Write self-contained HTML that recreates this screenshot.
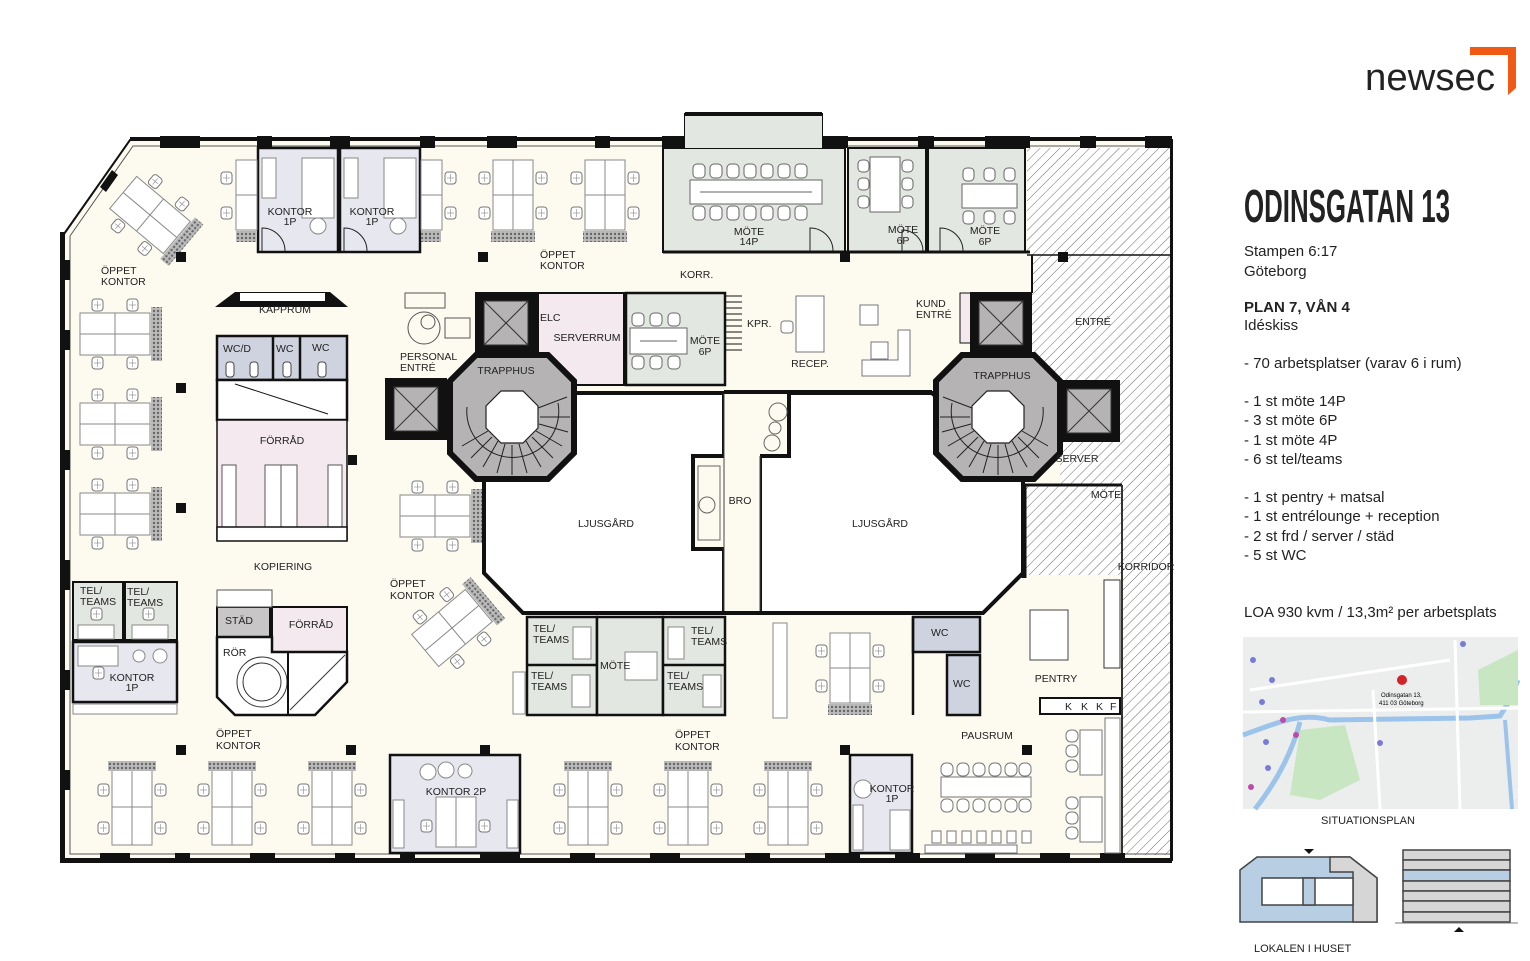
<!DOCTYPE html>
<html><head><meta charset="utf-8"><style>
html,body{margin:0;padding:0;background:#fff;}
svg{display:block}
.l{font-family:"Liberation Sans Narrow","Liberation Sans",sans-serif;font-size:10.5px;fill:#222;}
.r{font-family:"Liberation Sans",sans-serif;fill:#222;}
</style></head><body>
<svg width="1530" height="961" viewBox="0 0 1530 961" xmlns="http://www.w3.org/2000/svg">
<defs>
<pattern id="hatch" width="7" height="7" patternUnits="userSpaceOnUse" patternTransform="rotate(45)">
<rect width="7" height="7" fill="#fff"/><line x1="0" y1="0" x2="0" y2="7" stroke="#444" stroke-width="0.8"/></pattern>
<pattern id="plantp" width="4" height="4" patternUnits="userSpaceOnUse"><rect width="4" height="4" fill="#bbb"/><circle cx="2" cy="2" r="1.2" fill="#666"/></pattern>
<g id="ch"><rect x="0" y="0" width="11" height="12" rx="3" fill="#fff" stroke="#777" stroke-width="1"/><line x1="2" y1="6" x2="9" y2="6" stroke="#888" stroke-width=".6"/><line x1="5.5" y1="2" x2="5.5" y2="10" stroke="#888" stroke-width=".6"/></g>
<g id="dh"><rect x="0" y="0" width="70" height="42" fill="#fff" stroke="#888"/><line x1="35" y1="0" x2="35" y2="42" stroke="#888"/><line x1="0" y1="21" x2="70" y2="21" stroke="#888"/>
<use href="#ch" x="12" y="-14"/><use href="#ch" x="47" y="-14"/><use href="#ch" x="12" y="44"/><use href="#ch" x="47" y="44"/><rect x="71" y="-6" width="11" height="54" fill="url(#plantp)"/></g>
<g id="dvb"><rect x="0" y="0" width="40" height="70" fill="#fff" stroke="#888"/><line x1="20" y1="0" x2="20" y2="70" stroke="#888"/><line x1="0" y1="35" x2="40" y2="35" stroke="#888"/>
<use href="#ch" x="-14" y="12"/><use href="#ch" x="-14" y="47"/><use href="#ch" x="43" y="12"/><use href="#ch" x="43" y="47"/><rect x="-2" y="71" width="44" height="11" fill="url(#plantp)"/></g>
<g id="dvt"><rect x="0" y="0" width="40" height="75" fill="#fff" stroke="#888"/><line x1="20" y1="0" x2="20" y2="75" stroke="#888"/><line x1="0" y1="37" x2="40" y2="37" stroke="#888"/>
<use href="#ch" x="-14" y="14"/><use href="#ch" x="-14" y="52"/><use href="#ch" x="43" y="14"/><use href="#ch" x="43" y="52"/><rect x="-4" y="-9" width="48" height="10" fill="url(#plantp)"/></g>
<g id="tr">
<polygon points="-36,-62 36,-62 62,-36 62,36 36,62 -36,62 -62,36 -62,-36" fill="#b5b3b3" stroke="#111" stroke-width="6"/>
<g stroke="#222" stroke-width="1">
<line x1="26" y1="-9" x2="55" y2="-20"/><line x1="28" y1="0" x2="58" y2="0"/><line x1="27" y1="7" x2="56" y2="15"/><line x1="24" y1="14" x2="50" y2="29"/><line x1="20" y1="20" x2="41" y2="41"/><line x1="14" y1="24" x2="29" y2="50"/><line x1="7" y1="27" x2="15" y2="56"/><line x1="0" y1="28" x2="0" y2="58"/><line x1="-7" y1="27" x2="-15" y2="56"/><line x1="-14" y1="24" x2="-29" y2="50"/><line x1="-20" y1="20" x2="-41" y2="41"/><line x1="-24" y1="14" x2="-50" y2="29"/>
<path d="M-45,-10 A46,46 0 1 0 46,-14" fill="none"/></g>
<polygon points="-11,-26 11,-26 26,-11 26,11 11,26 -11,26 -26,11 -26,-11" fill="#fff" stroke="#222" stroke-width="1.2"/>
</g>
<g id="el"><rect x="0" y="0" width="62" height="62" fill="#111"/><rect x="9" y="9" width="44" height="44" fill="#b5b3b3" stroke="#333"/><line x1="9" y1="9" x2="53" y2="53" stroke="#333"/><line x1="53" y1="9" x2="9" y2="53" stroke="#333"/></g>
</defs>

<polygon points="130,140 685,140 685,114 822,114 822,140 1172,140 1172,860 64,860 64,234" fill="#fdfaf0" stroke="#111" stroke-width="2"/>
<polygon points="1027,148 1172,148 1172,855 1122,855 1122,715 1122,575 1025,575 1025,485 1060,485 1060,440 1120,440 1120,380 1060,380 1032,355 1032,255 1027,255" fill="url(#hatch)"/>
<rect x="1025" y="580" width="95" height="135" fill="#fdfaf0"/>
<line x1="1027" y1="255" x2="1172" y2="255" stroke="#111" stroke-width="1.5"/>
<line x1="1025" y1="485" x2="1122" y2="485" stroke="#111" stroke-width="3"/>
<line x1="1024" y1="485" x2="1024" y2="578" stroke="#111" stroke-width="5"/>
<line x1="1122" y1="485" x2="1122" y2="855" stroke="#333" stroke-width="2"/>
<line x1="1032" y1="255" x2="1032" y2="293" stroke="#111" stroke-width="2"/>

<g fill="none" stroke="#555" stroke-width="1">
<polyline points="70,236 133,146 685,146"/><polyline points="822,146 1172,146"/>
<polyline points="70,236 70,854 1172,854"/>
</g>
<g fill="#111">
<rect x="130" y="137" width="1042" height="4"/>
<rect x="685" y="112" width="137" height="4"/>
<rect x="60" y="232" width="5" height="630"/>
<rect x="60" y="858" width="1112" height="5"/>
<rect x="1170" y="137" width="2" height="725"/>
<rect x="160" y="136" width="40" height="12"/><rect x="257" y="136" width="15" height="12"/><rect x="330" y="136" width="20" height="12"/><rect x="420" y="136" width="15" height="12"/><rect x="487" y="136" width="30" height="12"/><rect x="595" y="136" width="15" height="12"/><rect x="662" y="136" width="25" height="12"/><rect x="820" y="136" width="28" height="12"/><rect x="918" y="136" width="16" height="12"/><rect x="985" y="136" width="45" height="12"/><rect x="1080" y="136" width="16" height="12"/><rect x="1145" y="136" width="27" height="12"/>
<rect x="60" y="260" width="10" height="20"/><rect x="60" y="330" width="10" height="20"/><rect x="60" y="450" width="10" height="20"/><rect x="60" y="560" width="10" height="30"/><rect x="60" y="670" width="10" height="20"/><rect x="60" y="770" width="10" height="20"/>
<rect x="100" y="853" width="30" height="10"/><rect x="175" y="853" width="15" height="10"/><rect x="250" y="853" width="25" height="10"/><rect x="335" y="853" width="20" height="10"/><rect x="400" y="853" width="15" height="10"/><rect x="480" y="853" width="40" height="10"/><rect x="570" y="853" width="25" height="10"/><rect x="650" y="853" width="30" height="10"/><rect x="745" y="853" width="25" height="10"/><rect x="825" y="853" width="35" height="10"/><rect x="895" y="853" width="25" height="10"/><rect x="965" y="853" width="30" height="10"/><rect x="1040" y="853" width="30" height="10"/><rect x="1100" y="853" width="25" height="10"/>
<polygon points="100,187 112,170 118,175 106,192"/>
</g>

<rect x="663" y="148" width="182" height="104" fill="#e3e7e1" stroke="#111" stroke-width="2"/>
<rect x="685" y="116" width="137" height="32" fill="#e3e7e1"/>
<rect x="848" y="148" width="78" height="104" fill="#e3e7e1" stroke="#111" stroke-width="2"/>
<rect x="928" y="148" width="97" height="104" fill="#e3e7e1" stroke="#111" stroke-width="2"/>
<line x1="663" y1="252" x2="1030" y2="252" stroke="#111" stroke-width="3"/>
<rect x="258" y="148" width="80" height="104" fill="#e7e8ef" stroke="#111" stroke-width="2.5"/>
<rect x="340" y="148" width="80" height="104" fill="#e7e8ef" stroke="#111" stroke-width="2.5"/>
<g><rect x="690" y="180" width="132" height="24" fill="#fff" stroke="#666"/><line x1="700" y1="192" x2="812" y2="192" stroke="#666"/>
<g fill="#fff" stroke="#666"><rect x="693" y="164" width="12" height="14" rx="4"/><rect x="710" y="164" width="12" height="14" rx="4"/><rect x="727" y="164" width="12" height="14" rx="4"/><rect x="744" y="164" width="12" height="14" rx="4"/><rect x="761" y="164" width="12" height="14" rx="4"/><rect x="778" y="164" width="12" height="14" rx="4"/><rect x="795" y="164" width="12" height="14" rx="4"/>
<rect x="693" y="206" width="12" height="14" rx="4"/><rect x="710" y="206" width="12" height="14" rx="4"/><rect x="727" y="206" width="12" height="14" rx="4"/><rect x="744" y="206" width="12" height="14" rx="4"/><rect x="761" y="206" width="12" height="14" rx="4"/><rect x="778" y="206" width="12" height="14" rx="4"/><rect x="795" y="206" width="12" height="14" rx="4"/>
<rect x="870" y="157" width="30" height="55" fill="#fff"/><rect x="858" y="160" width="11" height="12" rx="4"/><rect x="858" y="178" width="11" height="12" rx="4"/><rect x="858" y="196" width="11" height="12" rx="4"/><rect x="902" y="160" width="11" height="12" rx="4"/><rect x="902" y="178" width="11" height="12" rx="4"/><rect x="902" y="196" width="11" height="12" rx="4"/>
<rect x="962" y="184" width="55" height="24"/><rect x="963" y="168" width="11" height="13" rx="4"/><rect x="984" y="168" width="11" height="13" rx="4"/><rect x="1004" y="168" width="11" height="13" rx="4"/><rect x="963" y="211" width="11" height="13" rx="4"/><rect x="984" y="211" width="11" height="13" rx="4"/><rect x="1004" y="211" width="11" height="13" rx="4"/>
</g></g>
<g fill="none" stroke="#222" stroke-width="1"><path d="M810,251 L810,228 A23,23 0 0 1 833,251"/><path d="M902,251 L902,230 A21,21 0 0 1 923,251"/><path d="M940,251 L940,228 A23,23 0 0 1 963,251"/>
<path d="M262,251 L262,228 A23,23 0 0 1 285,251"/><path d="M344,251 L344,228 A23,23 0 0 1 367,251"/></g>
<g fill="#fff" stroke="#888"><rect x="262" y="158" width="14" height="40"/><rect x="302" y="158" width="32" height="60"/><rect x="344" y="158" width="14" height="40"/><rect x="384" y="158" width="32" height="60"/><circle cx="318" cy="226" r="8"/><circle cx="398" cy="226" r="8"/></g>

<use href="#dh" x="80" y="313"/><use href="#dh" x="80" y="403"/><use href="#dh" x="80" y="493"/>
<use href="#dh" x="400" y="495"/>
<use href="#dvb" x="493" y="160"/><use href="#dvb" x="585" y="160"/>
<!-- half desks beside kontor -->
<g fill="#fff" stroke="#888"><rect x="236" y="160" width="21" height="70"/><line x1="236" y1="195" x2="257" y2="195"/><rect x="421" y="160" width="21" height="70"/><line x1="421" y1="195" x2="442" y2="195"/></g>
<use href="#ch" x="221" y="172"/><use href="#ch" x="221" y="207"/><use href="#ch" x="445" y="172"/><use href="#ch" x="445" y="207"/>
<rect x="236" y="231" width="20" height="11" fill="url(#plantp)"/><rect x="421" y="231" width="20" height="11" fill="url(#plantp)"/>
<use href="#dvt" x="112" y="770"/><use href="#dvt" x="212" y="770"/><use href="#dvt" x="312" y="770"/><use href="#dvt" x="568" y="770"/><use href="#dvt" x="668" y="770"/><use href="#dvt" x="768" y="770"/>
<use href="#dvb" x="830" y="633"/>
<use href="#dh" transform="translate(150,215) rotate(40) translate(-35,-21)"/>
<use href="#dh" transform="translate(452,628) rotate(-40) translate(-35,-21)"/>

<polygon points="215,307 235,292 330,292 348,307" fill="#111"/><rect x="240" y="293" width="85" height="8" fill="#fff"/>
<rect x="217" y="336" width="130" height="44" fill="#cfd3e0" stroke="#111" stroke-width="2.5"/>
<line x1="273" y1="336" x2="273" y2="380" stroke="#111" stroke-width="2.5"/><line x1="300" y1="336" x2="300" y2="380" stroke="#111" stroke-width="2.5"/>
<g fill="#fff" stroke="#444"><rect x="226" y="362" width="8" height="15" rx="3"/><rect x="250" y="362" width="8" height="15" rx="3"/><rect x="283" y="362" width="8" height="15" rx="3"/><rect x="318" y="362" width="8" height="15" rx="3"/></g>
<rect x="217" y="380" width="130" height="40" fill="#fff" stroke="#111" stroke-width="2.5"/>
<line x1="235" y1="384" x2="328" y2="414" stroke="#111"/>
<rect x="217" y="420" width="130" height="120" fill="#f3e9ee" stroke="#111" stroke-width="1.5"/>
<g fill="#fff" stroke="#555"><rect x="222" y="465" width="14" height="65"/><rect x="265" y="465" width="32" height="65"/><rect x="328" y="465" width="14" height="65"/></g>
<line x1="281" y1="465" x2="281" y2="530" stroke="#555"/>
<rect x="217" y="527" width="130" height="14" fill="#fff" stroke="#111" stroke-width="1.5"/>

<rect x="217" y="607" width="53" height="30" fill="#c8c6c6" stroke="#111" stroke-width="2"/>
<rect x="272" y="607" width="75" height="45" fill="#f3e9ee" stroke="#111" stroke-width="2"/>
<polygon points="217,637 272,637 272,652 347,652 347,682 315,715 235,715 217,697" fill="#fff" stroke="#111" stroke-width="2.5"/>
<circle cx="262" cy="682" r="25" fill="none" stroke="#333"/><circle cx="262" cy="682" r="19" fill="none" stroke="#333"/>
<line x1="288" y1="652" x2="288" y2="715" stroke="#111" stroke-width="2"/><line x1="290" y1="710" x2="345" y2="655" stroke="#333"/>
<rect x="217" y="590" width="55" height="17" fill="#fff" stroke="#555"/>

<rect x="73" y="582" width="50" height="58" fill="#e3e7e1" stroke="#111" stroke-width="2"/>
<rect x="125" y="582" width="52" height="58" fill="#e3e7e1" stroke="#111" stroke-width="2"/>
<rect x="73" y="642" width="104" height="60" fill="#e7e8ef" stroke="#111" stroke-width="2.5"/>
<g fill="#fff" stroke="#888"><rect x="78" y="625" width="36" height="14"/><rect x="132" y="625" width="36" height="14"/><rect x="78" y="646" width="40" height="20"/><circle cx="139" cy="656" r="6"/><circle cx="160" cy="656" r="7"/><rect x="73" y="704" width="104" height="10"/></g>
<use href="#ch" x="91" y="608"/><use href="#ch" x="143" y="608"/><use href="#ch" x="93" y="667"/>

<g fill="none" stroke="#555"><rect x="405" y="293" width="40" height="15"/><circle cx="424" cy="328" r="16"/><circle cx="428" cy="322" r="7"/><rect x="445" y="318" width="25" height="20"/></g>

<rect x="538" y="293" width="86" height="92" fill="#f3e9ee" stroke="#111" stroke-width="2"/>
<rect x="626" y="293" width="99" height="92" fill="#e3e7e1" stroke="#111" stroke-width="2.5"/>
<g fill="#fff" stroke="#666"><rect x="630" y="328" width="57" height="26"/><rect x="632" y="313" width="12" height="13" rx="4"/><rect x="650" y="313" width="12" height="13" rx="4"/><rect x="668" y="313" width="12" height="13" rx="4"/><rect x="632" y="356" width="12" height="13" rx="4"/><rect x="650" y="356" width="12" height="13" rx="4"/><rect x="668" y="356" width="12" height="13" rx="4"/></g>
<line x1="640" y1="341" x2="677" y2="341" stroke="#666"/>
<g stroke="#111" stroke-width="1"><line x1="726" y1="296" x2="742" y2="296"/><line x1="726" y1="302" x2="742" y2="302"/><line x1="726" y1="308" x2="742" y2="308"/><line x1="726" y1="314" x2="742" y2="314"/><line x1="726" y1="320" x2="742" y2="320"/><line x1="726" y1="326" x2="742" y2="326"/><line x1="726" y1="332" x2="742" y2="332"/><line x1="726" y1="338" x2="742" y2="338"/><line x1="726" y1="344" x2="742" y2="344"/><line x1="726" y1="350" x2="742" y2="350"/></g>
<g fill="#fff" stroke="#777"><rect x="796" y="296" width="28" height="56"/><rect x="781" y="321" width="12" height="12" rx="3"/><rect x="871" y="342" width="17" height="17"/><polygon points="862,376 910,376 910,330 898,330 898,360 862,360"/><rect x="860" y="305" width="18" height="20"/></g>
<rect x="960" y="293" width="12" height="50" fill="#f3e9ee" stroke="#111"/>

<polygon points="568,393 724,393 724,456 693,456 693,549 724,549 724,613 523,613 484,573 484,478" fill="#fff" stroke="#111" stroke-width="4"/>
<polygon points="760,613 760,456 789,456 789,393 932,393 1023,478 1023,573 983,613" fill="#fff" stroke="#111" stroke-width="4"/>
<rect x="724" y="393" width="36" height="220" fill="#fdfaf0"/>
<line x1="724" y1="393" x2="724" y2="613" stroke="#444" stroke-width="1"/><line x1="760" y1="456" x2="760" y2="613" stroke="#444" stroke-width="1"/>
<line x1="724" y1="392" x2="932" y2="392" stroke="#111" stroke-width="4"/>
<line x1="523" y1="613" x2="983" y2="613" stroke="#111" stroke-width="4"/>
<g fill="none" stroke="#666"><rect x="698" y="466" width="22" height="74"/><circle cx="707" cy="505" r="8"/><circle cx="778" cy="412" r="9"/><circle cx="775" cy="428" r="6"/><circle cx="772" cy="443" r="8"/></g>

<use href="#el" x="475" y="292"/><use href="#el" x="385" y="378"/><use href="#el" x="970" y="292"/><use href="#el" x="1058" y="380"/>
<use href="#tr" transform="translate(512,417)"/>
<use href="#tr" transform="translate(998,417) scale(-1,1)"/>

<rect x="527" y="617" width="70" height="98" fill="#e3e7e1" stroke="#111" stroke-width="2.5"/>
<rect x="597" y="617" width="66" height="98" fill="#e3e7e1" stroke="#111" stroke-width="2.5"/>
<rect x="663" y="617" width="62" height="98" fill="#e3e7e1" stroke="#111" stroke-width="2.5"/>
<line x1="527" y1="665" x2="597" y2="665" stroke="#111" stroke-width="2.5"/><line x1="663" y1="665" x2="725" y2="665" stroke="#111" stroke-width="2.5"/>
<g fill="#fff" stroke="#888"><rect x="573" y="627" width="18" height="32"/><rect x="572" y="675" width="18" height="32"/><rect x="668" y="627" width="16" height="32"/><rect x="703" y="675" width="18" height="32"/><rect x="625" y="652" width="32" height="28"/><rect x="513" y="672" width="12" height="42"/><rect x="773" y="623" width="14" height="95"/></g>
<rect x="913" y="617" width="67" height="35" fill="#cfd3e0" stroke="#111" stroke-width="2.5"/>
<rect x="947" y="655" width="33" height="60" fill="#cfd3e0" stroke="#111" stroke-width="2.5"/>
<line x1="913" y1="617" x2="913" y2="715" stroke="#111" stroke-width="2.5"/>

<rect x="390" y="755" width="130" height="98" fill="#e7e8ef" stroke="#111" stroke-width="2.5"/>
<g fill="#fff" stroke="#888"><rect x="436" y="797" width="40" height="50"/><rect x="393" y="800" width="11" height="48"/><rect x="507" y="800" width="11" height="48"/><circle cx="428" cy="772" r="8"/><circle cx="446" cy="770" r="8"/><circle cx="465" cy="771" r="7"/></g>
<line x1="456" y1="797" x2="456" y2="847" stroke="#888"/>
<use href="#ch" x="421" y="820"/><use href="#ch" x="479" y="820"/>
<rect x="850" y="755" width="62" height="98" fill="#e7e8ef" stroke="#111" stroke-width="2.5"/>
<g fill="#fff" stroke="#888"><circle cx="863" cy="789" r="9"/><rect x="853" y="805" width="10" height="45"/><rect x="890" y="810" width="20" height="40"/></g>

<rect x="1030" y="610" width="38" height="50" fill="#fff" stroke="#444"/>
<rect x="1040" y="698" width="80" height="16" fill="#fff" stroke="#111" stroke-width="2"/>
<rect x="1104" y="580" width="16" height="88" fill="#fff" stroke="#333"/>
<g fill="#fff" stroke="#777"><rect x="941" y="777" width="90" height="20"/><rect x="925" y="845" width="92" height="8"/><rect x="1080" y="730" width="22" height="45"/><rect x="1080" y="797" width="22" height="45"/><rect x="1105" y="718" width="15" height="135"/>
<rect x="941" y="763" width="12" height="13" rx="5"/><rect x="957" y="763" width="12" height="13" rx="5"/><rect x="973" y="763" width="12" height="13" rx="5"/><rect x="989" y="763" width="12" height="13" rx="5"/><rect x="1005" y="763" width="12" height="13" rx="5"/><rect x="1019" y="763" width="12" height="13" rx="5"/>
<rect x="941" y="799" width="12" height="13" rx="5"/><rect x="957" y="799" width="12" height="13" rx="5"/><rect x="973" y="799" width="12" height="13" rx="5"/><rect x="989" y="799" width="12" height="13" rx="5"/><rect x="1005" y="799" width="12" height="13" rx="5"/><rect x="1019" y="799" width="12" height="13" rx="5"/>
<rect x="932" y="831" width="9" height="12"/><rect x="947" y="831" width="9" height="12"/><rect x="962" y="831" width="9" height="12"/><rect x="977" y="831" width="9" height="12"/><rect x="992" y="831" width="9" height="12"/><rect x="1007" y="831" width="9" height="12"/><rect x="1022" y="831" width="9" height="12"/>
<rect x="1066" y="730" width="12" height="12" rx="5"/><rect x="1066" y="745" width="12" height="12" rx="5"/><rect x="1066" y="760" width="12" height="12" rx="5"/><rect x="1066" y="797" width="12" height="12" rx="5"/><rect x="1066" y="812" width="12" height="12" rx="5"/><rect x="1066" y="827" width="12" height="12" rx="5"/></g>

<g fill="#111"><rect x="176" y="252" width="10" height="10"/><rect x="478" y="252" width="10" height="10"/><rect x="840" y="252" width="10" height="10"/><rect x="1058" y="252" width="10" height="10"/><rect x="176" y="383" width="10" height="10"/><rect x="176" y="503" width="10" height="10"/><rect x="348" y="455" width="9" height="10"/><rect x="176" y="745" width="10" height="10"/><rect x="346" y="745" width="10" height="10"/><rect x="480" y="745" width="10" height="10"/><rect x="840" y="745" width="10" height="10"/><rect x="1022" y="745" width="10" height="10"/></g>

<g class="l">
<text x="101" y="274">ÖPPET</text><text x="101" y="285">KONTOR</text>
<text x="290" y="215" text-anchor="middle">KONTOR</text><text x="290" y="225" text-anchor="middle">1P</text>
<text x="372" y="215" text-anchor="middle">KONTOR</text><text x="372" y="225" text-anchor="middle">1P</text>
<text x="540" y="258">ÖPPET</text><text x="540" y="269">KONTOR</text>
<text x="749" y="235" text-anchor="middle">MÖTE</text><text x="749" y="245" text-anchor="middle">14P</text>
<text x="903" y="233" text-anchor="middle">MÖTE</text><text x="903" y="244" text-anchor="middle">6P</text>
<text x="985" y="234" text-anchor="middle">MÖTE</text><text x="985" y="245" text-anchor="middle">6P</text>
<text x="680" y="278">KORR.</text>
<text x="285" y="313" text-anchor="middle">KAPPRUM</text>
<text x="223" y="352">WC/D</text><text x="276" y="352">WC</text><text x="312" y="351">WC</text>
<text x="400" y="360">PERSONAL</text><text x="400" y="371">ENTRÉ</text>
<text x="540" y="321">ELC</text><text x="587" y="341" text-anchor="middle">SERVERRUM</text>
<text x="705" y="344" text-anchor="middle">MÖTE</text><text x="705" y="355" text-anchor="middle">6P</text>
<text x="747" y="327">KPR.</text><text x="810" y="367" text-anchor="middle">RECEP.</text>
<text x="916" y="307">KUND</text><text x="916" y="318">ENTRÉ</text>
<text x="506" y="374" text-anchor="middle">TRAPPHUS</text><text x="1002" y="379" text-anchor="middle">TRAPPHUS</text>
<text x="1093" y="325" text-anchor="middle">ENTRÉ</text><text x="1077" y="462" text-anchor="middle">SERVER</text><text x="1106" y="498" text-anchor="middle">MÖTE</text><text x="1146" y="570" text-anchor="middle">KORRIDOR</text>
<text x="282" y="444" text-anchor="middle">FÖRRÅD</text><text x="283" y="570" text-anchor="middle">KOPIERING</text>
<text x="606" y="527" text-anchor="middle">LJUSGÅRD</text><text x="740" y="504" text-anchor="middle">BRO</text><text x="880" y="527" text-anchor="middle">LJUSGÅRD</text>
<text x="80" y="594">TEL/</text><text x="80" y="605">TEAMS</text><text x="127" y="595">TEL/</text><text x="127" y="606">TEAMS</text>
<text x="132" y="681" text-anchor="middle">KONTOR</text><text x="132" y="691" text-anchor="middle">1P</text>
<text x="225" y="624">STÄD</text><text x="311" y="628" text-anchor="middle">FÖRRÅD</text><text x="223" y="656">RÖR</text>
<text x="390" y="587">ÖPPET</text><text x="390" y="599">KONTOR</text>
<text x="533" y="632">TEL/</text><text x="533" y="643">TEAMS</text><text x="691" y="634">TEL/</text><text x="691" y="645">TEAMS</text>
<text x="531" y="679">TEL/</text><text x="531" y="690">TEAMS</text><text x="667" y="679">TEL/</text><text x="667" y="690">TEAMS</text>
<text x="600" y="669">MÖTE</text>
<text x="931" y="636">WC</text><text x="953" y="687">WC</text>
<text x="1056" y="682" text-anchor="middle">PENTRY</text><text x="987" y="739" text-anchor="middle">PAUSRUM</text>
<text x="1065" y="710">K</text><text x="1081" y="710">K</text><text x="1096" y="710">K</text><text x="1110" y="710">F</text>
<text x="216" y="737">ÖPPET</text><text x="216" y="749">KONTOR</text><text x="675" y="738">ÖPPET</text><text x="675" y="750">KONTOR</text>
<text x="456" y="795" text-anchor="middle">KONTOR 2P</text>
<text x="892" y="792" text-anchor="middle">KONTOR</text><text x="892" y="802" text-anchor="middle">1P</text>
</g>

<text x="1365" y="90" class="r" font-size="38" textLength="130" lengthAdjust="spacingAndGlyphs">newsec</text>
<polygon points="1470,47 1516,47 1516,88 1508,95 1508,55 1470,55" fill="#f05a14"/>
<text x="1244" y="222" class="r" font-size="46" font-weight="bold" textLength="206" lengthAdjust="spacingAndGlyphs" style="font-family:'Liberation Sans Narrow','Liberation Sans',sans-serif">ODINSGATAN 13</text>
<g class="r" font-size="15">
<text x="1244" y="256">Stampen 6:17</text><text x="1244" y="276">Göteborg</text>
<text x="1244" y="312" font-weight="bold">PLAN 7, VÅN 4</text><text x="1244" y="330">Idéskiss</text>
<text x="1244" y="368">- 70 arbetsplatser (varav 6 i rum)</text>
<text x="1244" y="406">- 1 st möte 14P</text><text x="1244" y="425">- 3 st möte 6P</text><text x="1244" y="445">- 1 st möte 4P</text><text x="1244" y="464">- 6 st tel/teams</text>
<text x="1244" y="502">- 1 st pentry + matsal</text><text x="1244" y="521">- 1 st entrélounge + reception</text><text x="1244" y="541">- 2 st frd / server / städ</text><text x="1244" y="560">- 5 st WC</text>
<text x="1244" y="617">LOA 930 kvm / 13,3m² per arbetsplats</text>
</g>
<rect x="1243" y="637" width="275" height="172" fill="#eceeee"/>
<path d="M1243,735 C1280,722 1300,712 1330,720 L1470,718 L1500,716 L1510,700 L1518,680" fill="none" stroke="#9cc3ea" stroke-width="5"/>
<path d="M1300,722 C1290,760 1270,790 1255,809" fill="none" stroke="#9cc3ea" stroke-width="5"/>
<path d="M1505,720 L1512,809" fill="none" stroke="#9cc3ea" stroke-width="4"/>
<polygon points="1300,730 1345,725 1360,780 1320,800 1290,795" fill="#c9e6c2"/>
<polygon points="1478,670 1518,650 1518,705 1480,705" fill="#c9e6c2"/>
<g stroke="#fff" stroke-width="3" fill="none"><line x1="1243" y1="712" x2="1518" y2="708"/><line x1="1455" y1="640" x2="1460" y2="809"/><line x1="1373" y1="690" x2="1380" y2="809"/><line x1="1250" y1="690" x2="1450" y2="660"/></g>
<circle cx="1402" cy="680" r="5" fill="#d2232a"/>
<text x="1381" y="697" font-family="Liberation Sans" font-size="6">Odinsgatan 13,</text><text x="1379" y="705" font-family="Liberation Sans" font-size="6">411 03 Göteborg</text>
<g fill="#7a7ad8"><circle cx="1253" cy="660" r="3"/><circle cx="1272" cy="680" r="3"/><circle cx="1262" cy="702" r="3"/><circle cx="1266" cy="742" r="3"/><circle cx="1268" cy="768" r="3"/><circle cx="1380" cy="743" r="3"/><circle cx="1463" cy="644" r="3"/></g>
<g fill="#c04aa8"><circle cx="1283" cy="720" r="3"/><circle cx="1296" cy="735" r="3"/><circle cx="1251" cy="787" r="3"/></g>
<text x="1321" y="824" class="r" font-size="11">SITUATIONSPLAN</text>
<polygon points="1304,849 1314,849 1309,854" fill="#111"/>
<polygon points="1240,870 1257,857 1350,857 1377,878 1377,922 1240,922" fill="#b8cfe3" stroke="#444" stroke-width="1.5"/>
<polygon points="1330,857 1350,857 1377,878 1377,922 1353,922 1353,872 1330,872" fill="#d6d6d6" stroke="#444" stroke-width="1.5"/>
<rect x="1262" y="878" width="91" height="27" fill="#fff" stroke="#444" stroke-width="1.5"/>
<rect x="1303" y="878" width="12" height="27" fill="#b8cfe3" stroke="#444" stroke-width="1.5"/>
<g stroke="#444" stroke-width="1.5"><rect x="1403" y="850" width="107" height="10" fill="#d6d6d6"/><rect x="1403" y="860" width="107" height="10" fill="#d6d6d6"/><rect x="1403" y="870" width="107" height="11" fill="#b8cfe3"/><rect x="1403" y="881" width="107" height="10" fill="#d6d6d6"/><rect x="1403" y="891" width="107" height="10" fill="#d6d6d6"/><rect x="1403" y="901" width="107" height="11" fill="#d6d6d6"/><rect x="1403" y="912" width="107" height="10" fill="#d6d6d6"/></g>
<line x1="1395" y1="923" x2="1518" y2="923" stroke="#777"/>
<polygon points="1454,932 1464,932 1459,927" fill="#111"/>
<text x="1254" y="952" class="r" font-size="11">LOKALEN I HUSET</text>
</svg>
</body></html>
